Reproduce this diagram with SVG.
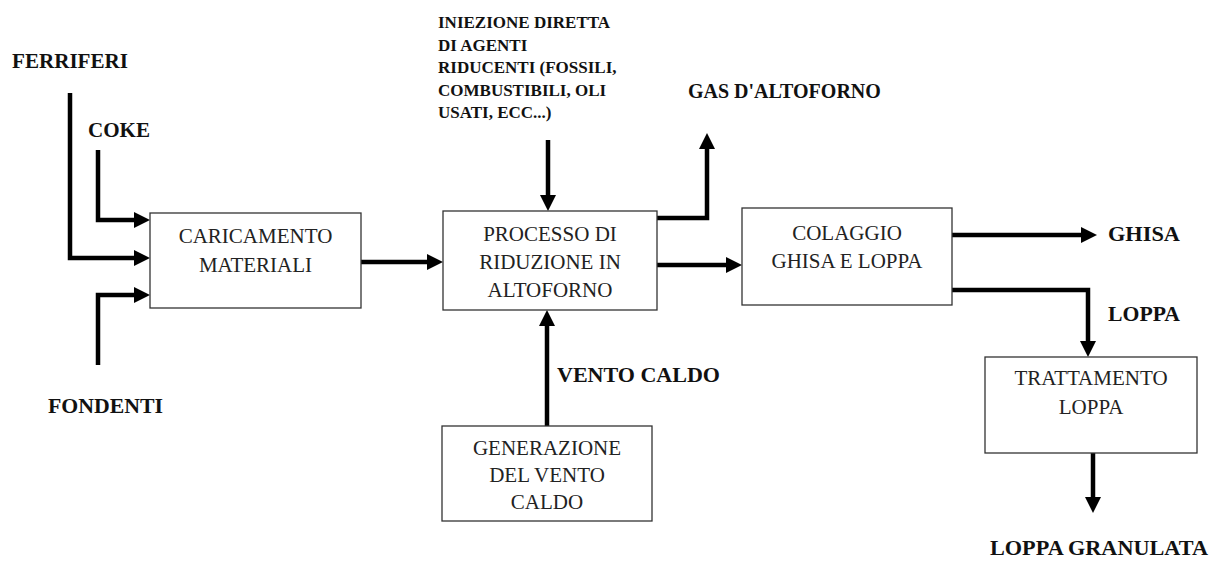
<svg xmlns="http://www.w3.org/2000/svg" width="1211" height="561" viewBox="0 0 1211 561">
<style>
.box{fill:#fff;stroke:#333;stroke-width:1.3}
.bt{font-family:"Liberation Serif","Times New Roman",serif;font-size:21px;fill:#222;text-anchor:middle}
.lb{font-family:"Liberation Serif","Times New Roman",serif;font-size:20px;font-weight:bold;fill:#111}
.inj{font-family:"Liberation Serif","Times New Roman",serif;font-size:17px;font-weight:bold;fill:#111}
.c{fill:none;stroke:#000;stroke-width:4.5;marker-end:url(#ah)}
</style>
<defs>
<marker id="ah" markerUnits="userSpaceOnUse" viewBox="0 0 16 16" markerWidth="16" markerHeight="16" refX="6" refY="8" orient="auto">
<path d="M0,0 L16,8 L0,16 z" fill="#000"/>
</marker>
</defs>
<rect width="1211" height="561" fill="#fff"/>
<g id="connectors">
<path class="c" d="M98,150 V220 H140"/>
<path class="c" d="M70,93 V258 H140"/>
<path class="c" d="M98,365 V295 H140"/>
<path class="c" d="M361,262 H433"/>
<path class="c" d="M548,140 V201"/>
<path class="c" d="M657,218 H707 V143"/>
<path class="c" d="M657,265 H732"/>
<path class="c" d="M547,426 V320"/>
<path class="c" d="M952,235 H1087"/>
<path class="c" d="M952,290 H1088 V347"/>
<path class="c" d="M1093,453 V503"/>
</g>
<g id="labels">
<text class="lb" x="12" y="68" textLength="116" lengthAdjust="spacingAndGlyphs">FERRIFERI</text>
<text class="lb" x="88" y="137" textLength="62" lengthAdjust="spacingAndGlyphs">COKE</text>
<text class="lb" x="48" y="413" textLength="115" lengthAdjust="spacingAndGlyphs">FONDENTI</text>
<text class="inj" x="438" y="28">INIEZIONE DIRETTA</text>
<text class="inj" x="438" y="50.5">DI AGENTI</text>
<text class="inj" x="438" y="73">RIDUCENTI (FOSSILI,</text>
<text class="inj" x="438" y="95.5">COMBUSTIBILI, OLI</text>
<text class="inj" x="438" y="118">USATI, ECC...)</text>
<text class="lb" x="688" y="98">GAS D'ALTOFORNO</text>
<text class="lb" x="557" y="382" textLength="163" lengthAdjust="spacingAndGlyphs">VENTO CALDO</text>
<text class="lb" x="1108" y="241" textLength="72" lengthAdjust="spacingAndGlyphs">GHISA</text>
<text class="lb" x="1108" y="321" textLength="72" lengthAdjust="spacingAndGlyphs">LOPPA</text>
<text class="lb" x="990" y="555" textLength="218" lengthAdjust="spacingAndGlyphs">LOPPA GRANULATA</text>
</g>
<g id="caricamento">
<rect class="box" x="150" y="213" width="211" height="95"/>
<text class="bt" x="255.5" y="243">CARICAMENTO</text>
<text class="bt" x="255.5" y="272">MATERIALI</text>
</g>
<g id="processo">
<rect class="box" x="443" y="211" width="214" height="99"/>
<text class="bt" x="550" y="241">PROCESSO DI</text>
<text class="bt" x="550" y="269">RIDUZIONE IN</text>
<text class="bt" x="550" y="297">ALTOFORNO</text>
</g>
<g id="colaggio">
<rect class="box" x="742" y="208" width="210" height="97"/>
<text class="bt" x="847" y="240">COLAGGIO</text>
<text class="bt" x="847" y="268">GHISA E LOPPA</text>
</g>
<g id="generazione">
<rect class="box" x="442" y="426" width="210" height="95"/>
<text class="bt" x="547" y="455">GENERAZIONE</text>
<text class="bt" x="547" y="482">DEL VENTO</text>
<text class="bt" x="547" y="509">CALDO</text>
</g>
<g id="trattamento">
<rect class="box" x="985" y="357" width="212" height="96"/>
<text class="bt" x="1091" y="385">TRATTAMENTO</text>
<text class="bt" x="1091" y="414">LOPPA</text>
</g>
</svg>
